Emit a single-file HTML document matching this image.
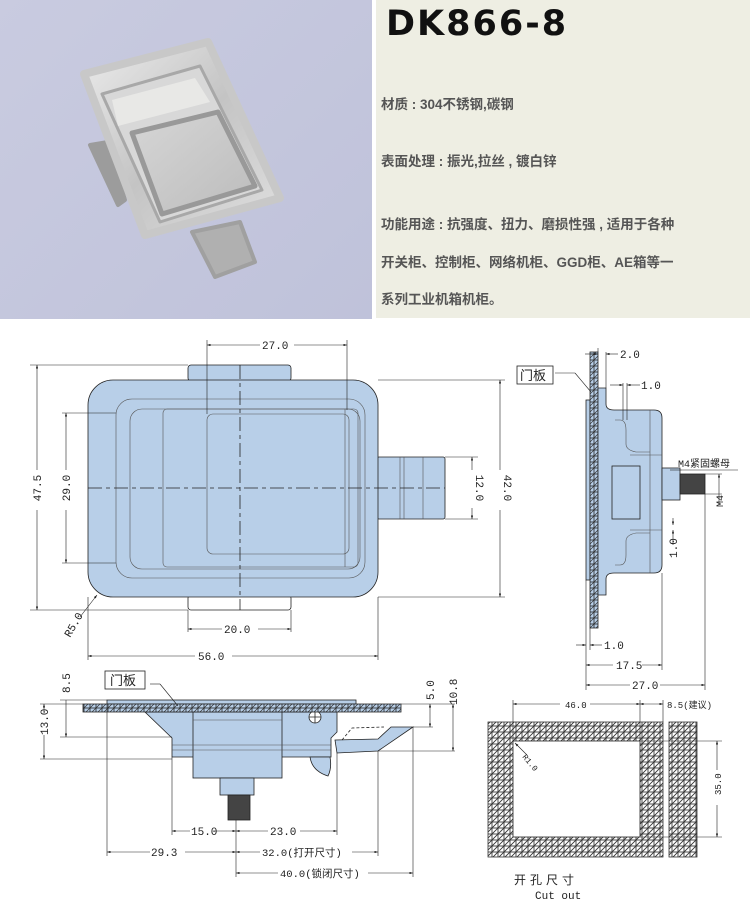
<!DOCTYPE html>
<html><head><meta charset="utf-8"><style>
html,body{margin:0;padding:0;background:#fff;}
body{width:750px;height:906px;position:relative;overflow:hidden;font-family:"Liberation Sans","Noto Sans CJK SC",sans-serif;}
.photo{position:absolute;left:0;top:0;width:372px;height:319px;background:linear-gradient(135deg,#c9cbe0,#bfc2da);}
.info{position:absolute;left:376px;top:0;width:374px;height:318px;background:#eeeee3;}
.info h1{position:absolute;left:10px;top:4px;margin:0;font-size:35px;font-weight:bold;letter-spacing:2px;color:#111;font-family:"DejaVu Sans","Liberation Sans",sans-serif;}
.info p{position:absolute;left:5px;margin:0;font-size:13.5px;font-weight:bold;color:#555;white-space:nowrap;}
svg text{font-family:"Liberation Mono","Noto Sans CJK SC",monospace;font-size:11px;fill:#222;stroke:none;}
</style></head><body>
<div class="photo">
<svg width="372" height="319">
<defs><linearGradient id="m" x1="0" y1="0" x2="1" y2="1"><stop offset="0" stop-color="#ececec"/><stop offset=".5" stop-color="#c4c4c4"/><stop offset="1" stop-color="#e0e0e0"/></linearGradient>
<linearGradient id="m2" x1="0" y1="0" x2="1" y2="1"><stop offset="0" stop-color="#d6d6d6"/><stop offset="1" stop-color="#bcbcbc"/></linearGradient></defs>
<polygon points="90,145 108,142 125,200 118,205" fill="#9c9c9c" stroke="#9c9c9c" stroke-width="4" stroke-linejoin="round"/>
<polygon points="192,232 240,222 255,262 215,277" fill="#b0b0b0" stroke="#a0a0a0" stroke-width="4" stroke-linejoin="round"/>
<polygon points="84,74 208,42 280,198 145,235" fill="url(#m)" stroke="#c8c8c8" stroke-width="8" stroke-linejoin="round"/>
<polygon points="102,94 200,66 262,190 160,222" fill="#d8d8d8" stroke="#a8a8a8" stroke-width="3" stroke-linejoin="round"/>
<polygon points="112,100 195,78 210,102 118,126" fill="#e8e8e6"/>
<polygon points="132,133 218,112 255,186 162,214" fill="url(#m2)" stroke="#999" stroke-width="5" stroke-linejoin="round"/>
</svg>
</div>
<div class="info">
<h1>DK866-8</h1>
<p style="top:93px">材质 : 304不锈钢,碳钢</p>
<p style="top:150px">表面处理 : 振光,拉丝 , 镀白锌</p>
<p style="top:213px">功能用途 : 抗强度、扭力、磨损性强 , 适用于各种</p>
<p style="top:251px">开关柜、控制柜、网络机柜、GGD柜、AE箱等一</p>
<p style="top:288px">系列工业机箱机柜。</p>
</div>
<svg width="750" height="906" style="position:absolute;left:0;top:0" fill="none" stroke="#222" stroke-width="0.8">
<defs>
<pattern id="h" width="6" height="6" patternUnits="userSpaceOnUse"><rect width="6" height="6" fill="#fff"/><path d="M0 6 L6 0 M-1 1 L1 -1 M5 7 L7 5" stroke="#333" stroke-width="0.9"/></pattern>
<pattern id="hb" width="6" height="6" patternUnits="userSpaceOnUse"><rect width="6" height="6" fill="#b8cfe8"/><path d="M0 6 L6 0 M-1 1 L1 -1 M5 7 L7 5" stroke="#333" stroke-width="0.7"/></pattern>
<marker id="a" markerWidth="6" markerHeight="4" refX="6" refY="2" orient="auto-start-reverse"><path d="M0 0 L6 2 L0 4 Z" fill="#222" stroke="none"/></marker>
</defs>
<g fill="#b8cfe8">
<rect x="188" y="365" width="103" height="16" rx="3"/>
<rect x="188" y="595" width="103" height="15" rx="3" fill="#fff"/>
<rect x="377" y="457" width="68" height="62" rx="2"/>
<rect x="88" y="380" width="290" height="217" rx="25"/>
</g>
<g stroke="#555" stroke-width="0.6">
<rect x="116" y="399" width="249" height="179" rx="16"/>
<rect x="130" y="409" width="230" height="160" rx="12"/>
<rect x="163" y="409" width="195" height="158" rx="4"/>
<rect x="207" y="414" width="142" height="140" rx="6"/>
<line x1="345" y1="409" x2="345" y2="567"/>
<line x1="400" y1="457" x2="400" y2="519"/><line x1="404" y1="457" x2="404" y2="519"/><line x1="423" y1="457" x2="423" y2="519"/>
</g>
<g stroke-dasharray="14 4 4 4">
<line x1="88" y1="488" x2="445" y2="488"/>
<line x1="240" y1="365" x2="240" y2="610"/>
</g>
<g stroke-width="0.6">
<line x1="207" y1="340" x2="207" y2="414"/><line x1="347" y1="340" x2="347" y2="410"/>
<line x1="207" y1="345" x2="260" y2="345" marker-start="url(#a)"/><line x1="294" y1="345" x2="347" y2="345" marker-end="url(#a)"/>
<line x1="30" y1="365" x2="188" y2="365"/><line x1="30" y1="610" x2="188" y2="610"/>
<line x1="37" y1="365" x2="37" y2="470" marker-start="url(#a)"/><line x1="37" y1="510" x2="37" y2="610" marker-end="url(#a)"/>
<line x1="62" y1="413" x2="116" y2="413"/><line x1="62" y1="563" x2="116" y2="563"/>
<line x1="66" y1="413" x2="66" y2="470" marker-start="url(#a)"/><line x1="66" y1="510" x2="66" y2="563" marker-end="url(#a)"/>
<line x1="445" y1="457" x2="478" y2="457"/><line x1="445" y1="519" x2="478" y2="519"/>
<line x1="472" y1="457" x2="472" y2="470" marker-start="url(#a)"/><line x1="472" y1="508" x2="472" y2="519" marker-end="url(#a)"/>
<line x1="378" y1="380" x2="505" y2="380"/><line x1="378" y1="597" x2="505" y2="597"/>
<line x1="500" y1="380" x2="500" y2="470" marker-start="url(#a)"/><line x1="500" y1="510" x2="500" y2="597" marker-end="url(#a)"/>
<line x1="188" y1="610" x2="188" y2="632"/><line x1="291" y1="610" x2="291" y2="632"/>
<line x1="188" y1="629" x2="222" y2="629" marker-start="url(#a)"/><line x1="258" y1="629" x2="291" y2="629" marker-end="url(#a)"/>
<line x1="88" y1="597" x2="88" y2="660"/><line x1="378" y1="597" x2="378" y2="660"/>
<line x1="88" y1="656" x2="195" y2="656" marker-start="url(#a)"/><line x1="232" y1="656" x2="378" y2="656" marker-end="url(#a)"/>
<line x1="80" y1="617" x2="97" y2="595" marker-end="url(#a)"/>
</g>
<text x="262" y="349">27.0</text>
<text transform="translate(41 488) rotate(-90)" text-anchor="middle">47.5</text>
<text transform="translate(70 488) rotate(-90)" text-anchor="middle">29.0</text>
<text transform="translate(476 488) rotate(90)" text-anchor="middle">12.0</text>
<text transform="translate(504 488) rotate(90)" text-anchor="middle">42.0</text>
<text x="224" y="633">20.0</text>
<text x="198" y="660">56.0</text>
<text transform="translate(70 638) rotate(-60)">R5.0</text>

<rect x="586" y="400" width="4" height="180" fill="#b8cfe8"/>
<rect x="590" y="352" width="8" height="276" fill="url(#hb)"/>
<path d="M598 388 h8 v16 q0 6 8 6 h40 q8 0 8 8 v147 q0 8 -8 8 h-40 q-8 0 -8 6 v16 h-8 Z" fill="#b8cfe8"/>
<g stroke="#555" stroke-width="0.6">
<path d="M615 420 h5 q6 0 6 10 v14 q0 6 10 8 h14 M615 565 h5 q6 0 6 -10 v-14 q0 -6 10 -8 h14"/>
<line x1="650" y1="410" x2="650" y2="573"/>
<line x1="630" y1="455" x2="662" y2="455"/><line x1="630" y1="530" x2="662" y2="530"/>
</g>
<rect x="612" y="466" width="28" height="53" fill="#b8cfe8"/>
<rect x="662" y="468" width="18" height="32" fill="#b8cfe8"/>
<rect x="680" y="474" width="25" height="20" fill="#444"/>
<g stroke-width="0.6">
<line x1="598" y1="352" x2="598" y2="348"/><line x1="606" y1="352" x2="606" y2="388"/>
<line x1="585" y1="354" x2="598" y2="354" marker-end="url(#a)"/><line x1="606" y1="354" x2="618" y2="354" marker-start="url(#a)"/>
<line x1="623" y1="383" x2="623" y2="420"/><line x1="627" y1="383" x2="627" y2="420"/>
<line x1="610" y1="385" x2="623" y2="385" marker-end="url(#a)"/><line x1="627" y1="385" x2="640" y2="385" marker-start="url(#a)"/>
<line x1="555" y1="373" x2="575" y2="373"/><line x1="575" y1="373" x2="591" y2="392"/>
<line x1="586" y1="580" x2="586" y2="690"/><line x1="590" y1="628" x2="590" y2="650"/>
<line x1="576" y1="645" x2="586" y2="645" marker-end="url(#a)"/><line x1="590" y1="645" x2="602" y2="645" marker-start="url(#a)"/>
<line x1="662" y1="573" x2="662" y2="670"/><line x1="705" y1="494" x2="705" y2="690"/>
<line x1="586" y1="665" x2="613" y2="665" marker-start="url(#a)"/><line x1="642" y1="665" x2="662" y2="665" marker-end="url(#a)"/>
<line x1="586" y1="685" x2="630" y2="685" marker-start="url(#a)"/><line x1="660" y1="685" x2="705" y2="685" marker-end="url(#a)"/>
<line x1="670" y1="470" x2="682" y2="470"/><line x1="682" y1="470" x2="738" y2="470"/>
<line x1="705" y1="474" x2="722" y2="474"/><line x1="705" y1="494" x2="722" y2="494"/>
<line x1="719" y1="474" x2="719" y2="505" marker-start="url(#a)"/>
<line x1="673" y1="518" x2="673" y2="525" marker-end="url(#a)"/><line x1="673" y1="530" x2="673" y2="545" marker-start="url(#a)"/>
</g>
<rect x="517" y="366" width="36" height="18" fill="#fff" stroke="#222"/>
<text x="520" y="380" style="font-size:13px">门板</text>
<text x="620" y="358">2.0</text>
<text x="641" y="389">1.0</text>
<text x="604" y="649">1.0</text>
<text x="616" y="669">17.5</text>
<text x="632" y="689">27.0</text>
<text x="678" y="467" style="font-size:10px">M4紧固螺母</text>
<text transform="translate(723 507) rotate(-90)" style="font-size:10px">M4</text>
<text transform="translate(677 558) rotate(-90)">1.0</text>

<rect x="107" y="700" width="249" height="4" fill="#b8cfe8"/>
<path d="M145 712 L337 712 L337 732 L331 738 L331 757 L172 757 L172 738 Z" fill="#b8cfe8"/>
<path d="M310 757 q2 14 18 19 q4 -8 2 -19 Z" fill="#b8cfe8"/>
<rect x="193" y="712" width="89" height="66" fill="#b8cfe8"/>
<rect x="220" y="778" width="34" height="17" fill="#b8cfe8"/>
<rect x="228" y="795" width="22" height="25" fill="#444"/>
<path d="M335 740 L378 739 L391 727 L413 727 L378 751 L337 753 Z" fill="#b8cfe8"/>
<path d="M342 740 L352 728 L384 727" stroke-dasharray="3 2"/>
<circle cx="315" cy="717" r="6" fill="#fff"/><path d="M309 717 h12 M315 711 v12"/>
<g stroke="#555" stroke-width="0.5"><line x1="172" y1="745" x2="331" y2="745"/><line x1="172" y1="750" x2="331" y2="750"/><line x1="193" y1="720" x2="282" y2="720"/></g>
<rect x="83" y="704" width="318" height="8" fill="url(#hb)"/>
<g stroke-width="0.6">
<line x1="60" y1="700" x2="107" y2="700"/><line x1="60" y1="737" x2="172" y2="737"/><line x1="40" y1="704" x2="83" y2="704"/><line x1="40" y1="759" x2="172" y2="759"/>
<line x1="66" y1="700" x2="66" y2="737" marker-end="url(#a)"/>
<line x1="44" y1="704" x2="44" y2="712" marker-start="url(#a)"/><line x1="44" y1="735" x2="44" y2="759" marker-end="url(#a)"/>
<line x1="401" y1="704" x2="455" y2="704"/><line x1="413" y1="727" x2="433" y2="727"/><line x1="378" y1="751" x2="455" y2="751"/>
<line x1="430" y1="704" x2="430" y2="727" marker-start="url(#a)" marker-end="url(#a)"/>
<line x1="453" y1="704" x2="453" y2="751" marker-start="url(#a)" marker-end="url(#a)"/>
<line x1="107" y1="704" x2="107" y2="856"/><line x1="172" y1="757" x2="172" y2="835"/><line x1="236" y1="820" x2="236" y2="877"/>
<line x1="337" y1="753" x2="337" y2="835"/><line x1="378" y1="751" x2="378" y2="856"/><line x1="413" y1="727" x2="413" y2="877"/>
<line x1="172" y1="831" x2="190" y2="831" marker-start="url(#a)"/><line x1="215" y1="831" x2="236" y2="831" marker-end="url(#a)"/>
<line x1="236" y1="831" x2="268" y2="831" marker-start="url(#a)"/><line x1="300" y1="831" x2="337" y2="831" marker-end="url(#a)"/>
<line x1="107" y1="852" x2="150" y2="852" marker-start="url(#a)"/><line x1="185" y1="852" x2="236" y2="852" marker-end="url(#a)"/>
<line x1="236" y1="852" x2="260" y2="852" marker-start="url(#a)"/><line x1="352" y1="852" x2="378" y2="852" marker-end="url(#a)"/>
<line x1="236" y1="873" x2="278" y2="873" marker-start="url(#a)"/><line x1="368" y1="873" x2="413" y2="873" marker-end="url(#a)"/>
<line x1="150" y1="684" x2="160" y2="684"/><line x1="160" y1="684" x2="178" y2="706"/>
</g>
<rect x="105" y="671" width="40" height="18" fill="#fff" stroke="#222"/>
<text x="110" y="685" style="font-size:13px">门板</text>
<text transform="translate(70 693) rotate(-90)">8.5</text>
<text transform="translate(48 735) rotate(-90)">13.0</text>
<text transform="translate(434 700) rotate(-90)">5.0</text>
<text transform="translate(457 705) rotate(-90)">10.8</text>
<text x="191" y="835">15.0</text>
<text x="270" y="835">23.0</text>
<text x="151" y="856">29.3</text>
<text x="262" y="856" style="font-size:10.5px">32.0(打开尺寸)</text>
<text x="280" y="877" style="font-size:10.5px">40.0(锁闭尺寸)</text>

<rect x="488" y="722" width="175" height="135" fill="url(#h)" stroke="#333"/>
<rect x="513" y="741" width="127" height="96" fill="#fff"/>
<rect x="669" y="722" width="28" height="135" fill="url(#h)" stroke="#333"/>
<g stroke-width="0.6">
<line x1="513" y1="700" x2="513" y2="741"/><line x1="640" y1="700" x2="640" y2="741"/><line x1="663" y1="700" x2="663" y2="722"/>
<line x1="513" y1="704" x2="560" y2="704" marker-start="url(#a)"/><line x1="590" y1="704" x2="640" y2="704" marker-end="url(#a)"/>
<line x1="640" y1="704" x2="663" y2="704" marker-start="url(#a)" marker-end="url(#a)"/>
<line x1="640" y1="741" x2="722" y2="741"/><line x1="640" y1="837" x2="722" y2="837"/>
<line x1="717" y1="741" x2="717" y2="770" marker-start="url(#a)"/><line x1="717" y1="805" x2="717" y2="837" marker-end="url(#a)"/>
<line x1="527" y1="755" x2="515" y2="743" marker-end="url(#a)"/>
</g>
<text x="565" y="708" style="font-size:9px">46.0</text>
<text x="667" y="708" style="font-size:9px">8.5(建议)</text>
<text transform="translate(721 795) rotate(-90)" style="font-size:9px">35.0</text>
<text transform="translate(522 757) rotate(50)" style="font-size:8px">R1.0</text>
<text x="514" y="884" style="font-size:12px;letter-spacing:4px">开孔尺寸</text>
<text x="535" y="899">Cut  out</text>
</svg>
</body></html>
